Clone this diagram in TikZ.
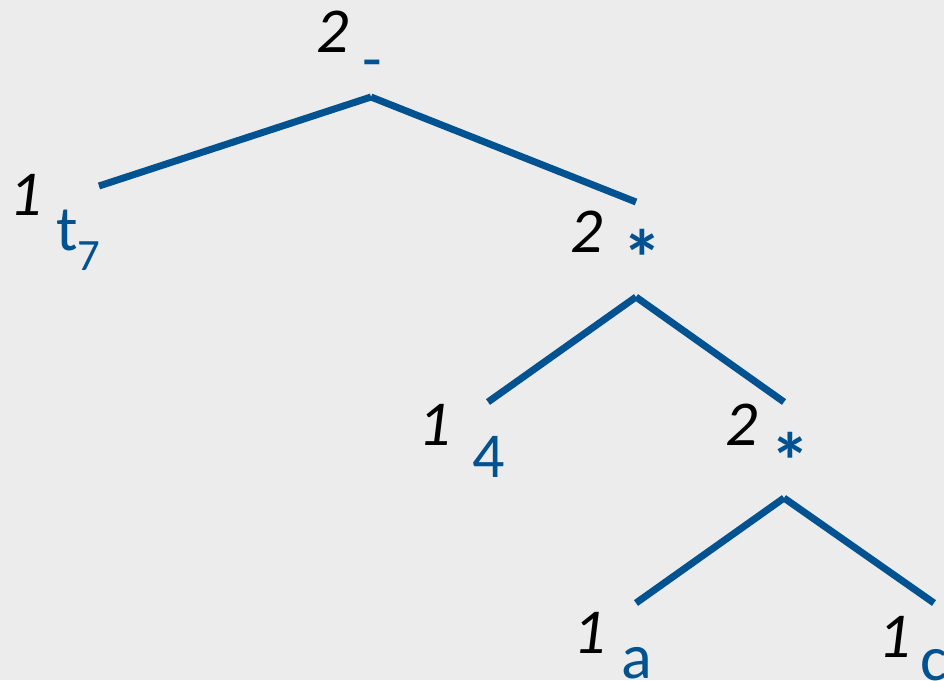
\documentclass[tikz,border=0pt]{standalone}
\usepackage{fontspec}
\setmainfont{Carlito}
\definecolor{bg}{RGB}{236,236,236}
\definecolor{treeblue}{RGB}{0,82,145}
\begin{document}
\begin{tikzpicture}[x=1pt,y=-1pt,
  edge/.style={draw=treeblue,line width=7pt},
  num/.style={anchor=base west,inner sep=0pt,font=\fontsize{64}{70}\selectfont\itshape,text=black},
  lab/.style={anchor=base west,inner sep=0pt,font=\fontsize{64}{70}\selectfont,text=treeblue},
  star/.style={anchor=base west,inner sep=0pt,font=\fontsize{80}{86}\selectfont\bfseries,text=treeblue}]
\fill[bg] (0,0) rectangle (944,680);
\useasboundingbox (0,0) rectangle (944,680);
% coordinates
\coordinate (r) at (371,97);
\coordinate (rl) at (99,186);
\coordinate (rr) at (636,202);
\coordinate (m) at (636,297);
\coordinate (ml) at (488,402);
\coordinate (mr) at (784,402);
\coordinate (b) at (784,498);
\coordinate (bl) at (636,603);
\coordinate (br) at (934,603);
% edges
\draw[edge] (r) -- (rl);
\draw[edge] (r) -- (rr);
\draw[edge] (m) -- (ml);
\draw[edge] (m) -- (mr);
\draw[edge] (b) -- (bl);
\draw[edge] (b) -- (br);
% labels
\node[num] (n1) at (316,52) {2};
\node[lab] (l1) at (362,80) {-};
\node[num] (n2) at (9,215) {1};
\node[lab] (l2) at (56,250) {t\textsubscript{7}};
\node[num] (n3) at (570,252) {2};
\node[star] (l3) at (622,286) {*};
\node[num] (n4) at (418,445) {1};
\node[lab] (l4) at (472,477) {4};
\node[num] (n5) at (725,445) {2};
\node[star] (l5) at (770,489) {*};
\node[num] (n6) at (573,653) {1};
\node[lab] (l6) at (621,678) {a};
\node[num] (n7) at (878,657) {1};
\node[lab] (l7) at (920,680) {c};
\end{tikzpicture}
\end{document}
